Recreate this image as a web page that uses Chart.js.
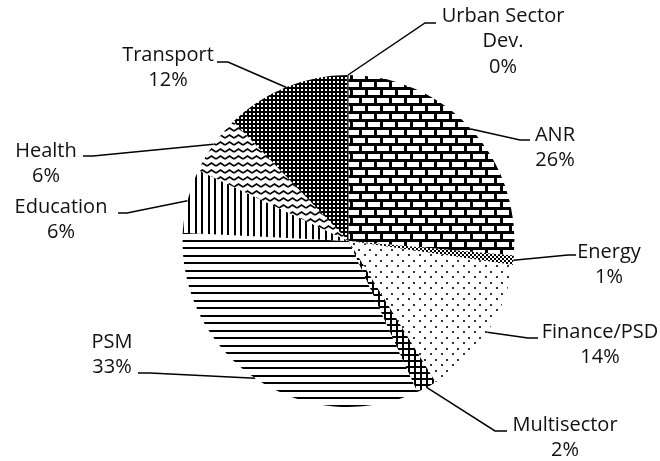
<!DOCTYPE html>
<html lang="en">
<head>
    <meta charset="UTF-8">
    <title>Sector shares</title>
    <script src="https://cdn.jsdelivr.net/npm/chart.js"></script>
    <style>
        body { margin: 0; background: #fff; }
        .chart-wrapper { width: 660px; height: 461px; position: relative; }
    </style>
</head>
<body>
    <div class="chart-wrapper">
        <canvas id="sectorPie"></canvas>
    </div>

    <script>
        // data (labels show the rounded value)
        const categories = ['ANR', 'Energy', 'Finance/PSD', 'Multisector', 'PSM', 'Education', 'Health', 'Transport', ['Urban Sector', 'Dev.']];
        const shares = [26.4, 0.9, 13.9, 2.0, 32.6, 6.2, 5.8, 12.1, 0.1];

        // where each label sits: text centre, elbow of the leader, end of the short stub
        const labelLayout = [
            { tx: 555, ty: 135, ex: 520, ey: 140, sx: 530 },
            { tx: 609, ty: 252, ex: 568, ey: 255, sx: 576 },
            { tx: 600, ty: 332, ex: 528, ey: 338, sx: 538 },
            { tx: 565, ty: 425, ex: 495, ey: 431, sx: 507 },
            { tx: 112, ty: 342, ex: 150, ey: 373, sx: 138 },
            { tx: 61,  ty: 207, ex: 127, ey: 213, sx: 118 },
            { tx: 46,  ty: 151, ex: 93,  ey: 156, sx: 83 },
            { tx: 168, ty: 55,  ex: 228, ey: 62,  sx: 217 },
            { tx: 503, ty: 16,  ex: 425, ey: 23,  sx: 436 }
        ];

        // little tiles for the black & white fills
        function makePattern(w, h, draw) {
            const c = document.createElement('canvas');
            c.width = w;
            c.height = h;
            const g = c.getContext('2d');
            g.fillStyle = '#fff';
            g.fillRect(0, 0, w, h);
            g.fillStyle = '#000';
            g.strokeStyle = '#000';
            draw(g);
            return document.getElementById('sectorPie').getContext('2d').createPattern(c, 'repeat');
        }

        const bricks = makePattern(15, 16, g => {
            g.fillRect(0, 0, 15, 16);
            g.fillStyle = '#fff';
            g.fillRect(2, 2, 12, 5);
            g.fillRect(0, 10, 5, 5);
            g.fillRect(8, 10, 7, 5);
        });
        const checker = makePattern(4, 4, g => {
            g.fillRect(0, 0, 2, 2);
            g.fillRect(2, 2, 2, 2);
        });
        const sparseDots = makePattern(11, 11, g => {
            g.fillStyle = '#333';
            g.fillRect(1, 1, 2, 2);
            g.fillRect(6, 7, 2, 2);
        });
        const grid = makePattern(6, 6, g => {
            g.fillRect(0, 0, 6, 2);
            g.fillRect(0, 0, 2, 6);
        });
        const hLines = makePattern(15, 15, g => {
            g.fillRect(0, 0, 15, 2);
            g.fillRect(0, 7, 15, 2);
        });
        const vLines = makePattern(13, 8, g => {
            g.fillRect(0, 0, 2, 8);
            g.fillRect(6, 0, 2, 8);
        });
        const zigzag = makePattern(9, 7, g => {
            g.lineWidth = 1.6;
            g.beginPath();
            g.moveTo(0, 5);
            g.lineTo(4.5, 2);
            g.lineTo(9, 5);
            g.stroke();
        });
        const darkDots = makePattern(4, 4, g => {
            g.fillRect(0, 0, 4, 4);
            g.fillStyle = '#fff';
            g.fillRect(1, 1, 2, 2);
        });
        const fills = [bricks, checker, sparseDots, grid, hLines, vLines, zigzag, darkDots, darkDots];

        const leaderLabels = {
            id: 'leaderLabels',
            afterDraw(chart) {
                const ctx = chart.ctx;
                const arcs = chart.getDatasetMeta(0).data;
                ctx.save();
                ctx.strokeStyle = '#000';
                ctx.lineWidth = 1.5;
                ctx.fillStyle = '#111';
                ctx.font = '20px "Open Sans", sans-serif';
                ctx.textAlign = 'center';
                ctx.textBaseline = 'middle';
                arcs.forEach((arc, i) => {
                    const p = arc.getProps(['x', 'y', 'startAngle', 'endAngle', 'outerRadius'], true);
                    const mid = (p.startAngle + p.endAngle) / 2;
                    const L = labelLayout[i];
                    ctx.beginPath();
                    ctx.moveTo(p.x + Math.cos(mid) * p.outerRadius, p.y + Math.sin(mid) * p.outerRadius);
                    ctx.lineTo(L.ex, L.ey);
                    ctx.lineTo(L.sx, L.ey);
                    ctx.stroke();

                    const name = chart.data.labels[i];
                    const lines = (Array.isArray(name) ? name : [name]).concat(Math.round(shares[i]) + '%');
                    lines.forEach((t, k) => ctx.fillText(t, L.tx, L.ty + k * 25.5));
                });
                ctx.restore();
            }
        };

        new Chart(document.getElementById('sectorPie').getContext('2d'), {
            type: 'pie',
            data: {
                labels: categories,
                datasets: [{
                    data: shares,
                    backgroundColor: fills,
                    borderWidth: 0,
                    hoverOffset: 0
                }]
            },
            options: {
                responsive: true,
                maintainAspectRatio: false,
                animation: false,
                layout: { padding: { top: 75, bottom: 54, left: 182, right: 145 } },
                plugins: {
                    legend: { display: false },
                    tooltip: { enabled: false }
                }
            },
            plugins: [leaderLabels]
        });
    </script>
</body>
</html>
